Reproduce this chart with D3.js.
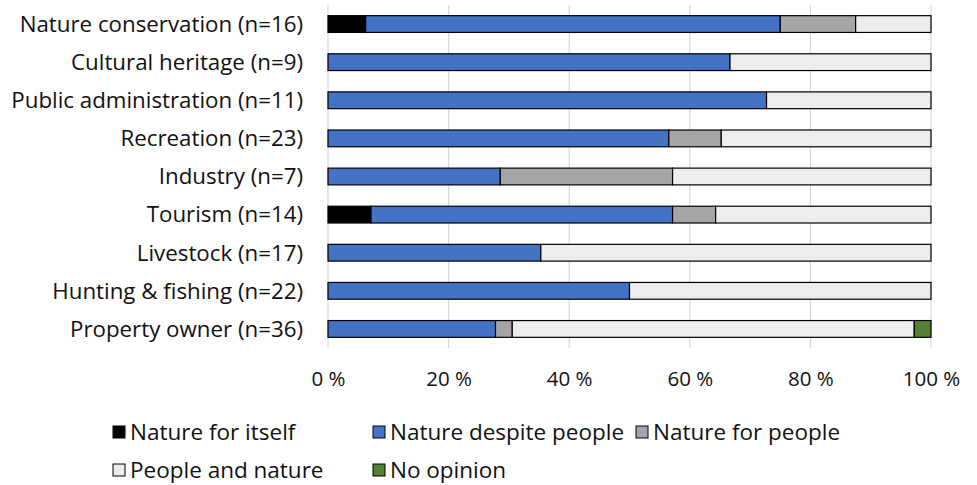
<!DOCTYPE html>
<html><head><meta charset="utf-8">
<script src="https://cdn.jsdelivr.net/npm/d3@7"></script>
<style>body{margin:0;background:#fff}</style>
</head><body>
<script>
const categories = ["Nature conservation (n=16)","Cultural heritage (n=9)","Public administration (n=11)","Recreation (n=23)","Industry (n=7)","Tourism (n=14)","Livestock (n=17)","Hunting & fishing (n=22)","Property owner (n=36)"];
const seriesNames = ["Nature for itself","Nature despite people","Nature for people","People and nature","No opinion"];
const colors = ["#000000","#4472c4","#a5a5a5","#ededed","#548235"];
// counts per category
const natureForItself   = [1,0,0,0,0,1,0,0,0];
const natureDespite     = [11,6,8,13,2,7,6,11,10];
const natureForPeople   = [2,0,0,2,2,1,0,0,1];
const peopleAndNature   = [2,3,3,8,3,5,11,11,24];
const noOpinion         = [0,0,0,0,0,0,0,0,1];
const tickValues = [0,0.2,0.4,0.6,0.8,1.0];
const tickLabels = ["0 %","20 %","40 %","60 %","80 %","100 %"];

const FONT="'Open Sans', Lato, sans-serif";
const W=977,H=485;
const svg=d3.select("body").append("svg").attr("width",W).attr("height",H)
  .style("font-family",FONT);
const x=d3.scaleLinear().domain([0,1]).range([328,931]);
const y=d3.scaleBand().domain(categories).range([5,348]).paddingInner(0.56).paddingOuter(0.28);

const data=categories.map((c,i)=>{
  const vals=[natureForItself[i],natureDespite[i],natureForPeople[i],peopleAndNature[i],noOpinion[i]];
  const tot=d3.sum(vals);
  const o={cat:c};
  seriesNames.forEach((s,j)=>o[s]=vals[j]/tot);
  return o;
});
const stack=d3.stack().keys(seriesNames)(data);

// gridlines
svg.append("g").selectAll("line").data(tickValues).join("line")
  .attr("x1",d=>x(d)).attr("x2",d=>x(d)).attr("y1",5).attr("y2",348)
  .attr("stroke","#d9d9d9").attr("stroke-width",1.2);

stack.forEach((layer,j)=>{
  svg.append("g").selectAll("rect").data(layer.filter(d=>d[1]-d[0]>0)).join("rect")
    .attr("x",d=>x(d[0])).attr("width",d=>x(d[1])-x(d[0]))
    .attr("y",d=>y(d.data.cat)).attr("height",y.bandwidth())
    .attr("fill",colors[j]).attr("stroke","#000").attr("stroke-width",1.2);
});

// category labels
svg.append("g").selectAll("text").data(categories).join("text")
  .attr("x",303).attr("y",d=>y(d)+y.bandwidth()/2).attr("dy","0.35em")
  .attr("text-anchor","end").attr("font-size",22.3).attr("fill","#111").text(d=>d);

// x axis labels
const xa=svg.append("g").attr("transform","translate(0,360)")
  .call(d3.axisBottom(x).tickValues(tickValues).tickFormat((d,i)=>tickLabels[i]).tickSize(0).tickPadding(11));
xa.select(".domain").remove();
xa.selectAll("text").attr("font-size",20.5).attr("fill","#111").style("font-family",FONT);

// legend
const legPos=[[113,432],[373,432],[636,432],[113,470],[373,470]];
const lg=svg.append("g").selectAll("g").data(seriesNames).join("g")
  .attr("transform",(d,i)=>`translate(${legPos[i][0]},${legPos[i][1]})`);
lg.append("rect").attr("x",0).attr("y",-6).attr("width",12).attr("height",12)
  .attr("fill",(d,i)=>colors[i]).attr("stroke","#000").attr("stroke-width",1);
lg.append("text").attr("x",17).attr("y",0).attr("dy","0.35em").attr("font-size",22.5).attr("fill","#111").text(d=>d);
</script>
</body></html>
